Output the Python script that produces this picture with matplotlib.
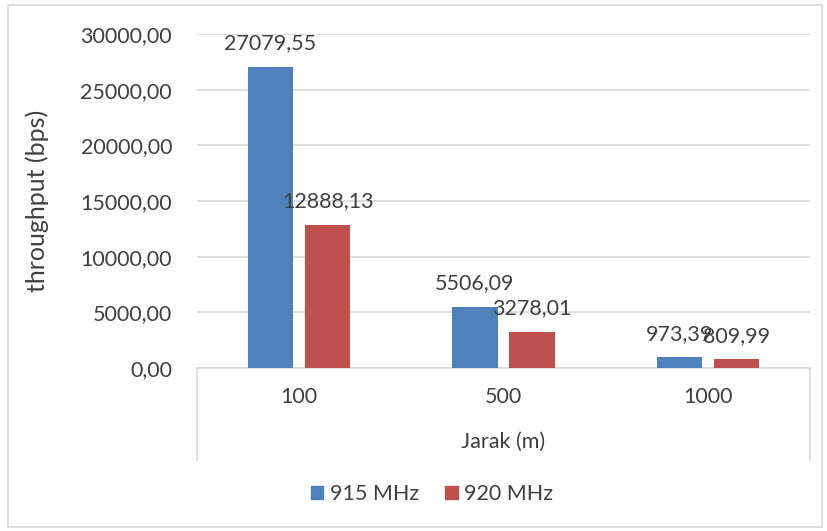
import matplotlib.pyplot as plt
from matplotlib.patches import Patch, Rectangle
from matplotlib.lines import Line2D

jarak = ['100', '500', '1000']
mhz_915 = [27079.55, 5506.09, 973.39]
mhz_920 = [12888.13, 3278.01, 809.99]
series_names = ['915 MHz', '920 MHz']
y_ticks = [0, 5000, 10000, 15000, 20000, 25000, 30000]

blue = '#4F81BD'
red = '#C0504D'
txt = '#404040'
grey = '#D9D9D9'

plt.rcParams['font.family'] = ['Lato', 'DejaVu Sans']
fs = 15.5

W, H = 827, 531
fig = plt.figure(figsize=(W / 100, H / 100), dpi=100)

# plot area in pixels
left, right, top, bottom = 197, 810, 34, 368
ax = fig.add_axes([left / W, 1 - bottom / H, (right - left) / W, (bottom - top) / H])

x = list(range(len(jarak)))
bw = 0.222
off = 0.14
b1 = ax.bar([i - off for i in x], mhz_915, bw, color=blue, zorder=3)
b2 = ax.bar([i + off for i in x], mhz_920, bw, color=red, zorder=3)

def fmt(v):
    return f'{v:.2f}'.replace('.', ',')

for bars, vals in [(b1, mhz_915), (b2, mhz_920)]:
    for rect, v in zip(bars, vals):
        ax.annotate(fmt(v), (rect.get_x() + rect.get_width() / 2, v),
                    xytext=(0, 9.5), textcoords='offset points',
                    ha='center', va='bottom', fontsize=fs, color=txt,
                    annotation_clip=False, zorder=4)

ax.set_xlim(-0.5, 2.5)
ax.set_ylim(0, 30000)
ax.set_yticks(y_ticks)
ax.set_yticklabels([fmt(t) for t in y_ticks])
ax.set_xticks(x)
ax.set_xticklabels(jarak)
ax.tick_params(axis='y', length=0, pad=18, labelsize=fs, labelcolor=txt)
ax.tick_params(axis='x', length=0, pad=14, labelsize=fs, labelcolor=txt)
ax.yaxis.grid(True, color=grey, linewidth=1.2, zorder=0)
for s in ['top', 'right', 'left']:
    ax.spines[s].set_visible(False)
ax.spines['bottom'].set_color(grey)
ax.spines['bottom'].set_linewidth(1.2)

ax.set_ylabel('throughput (bps)', fontsize=18, color=txt)
ax.yaxis.set_label_coords((49 - left) / (right - left), 0.5)

# category box lines below the plot area
for px in [left, right]:
    fig.add_artist(Line2D([px / W, px / W], [1 - bottom / H, 1 - 460 / H],
                          color=grey, linewidth=1.2))
fig.text((left + right) / 2 / W, 1 - 442 / H, 'Jarak (m)', ha='center', va='center',
         fontsize=fs, color=txt)

handles = [Patch(color=blue), Patch(color=red)]
fig.legend(handles, series_names, loc='center', bbox_to_anchor=(432 / W, 1 - 494 / H),
           ncol=2, frameon=False, fontsize=fs, labelcolor=txt,
           handlelength=0.6, handleheight=0.6, handletextpad=0.3, columnspacing=1.2)

fig.add_artist(Rectangle((8 / W, 4 / H), 814 / W, 522 / H, fill=False,
                         edgecolor=grey, linewidth=1.2, transform=fig.transFigure))

fig.savefig('out.png', dpi=100)
